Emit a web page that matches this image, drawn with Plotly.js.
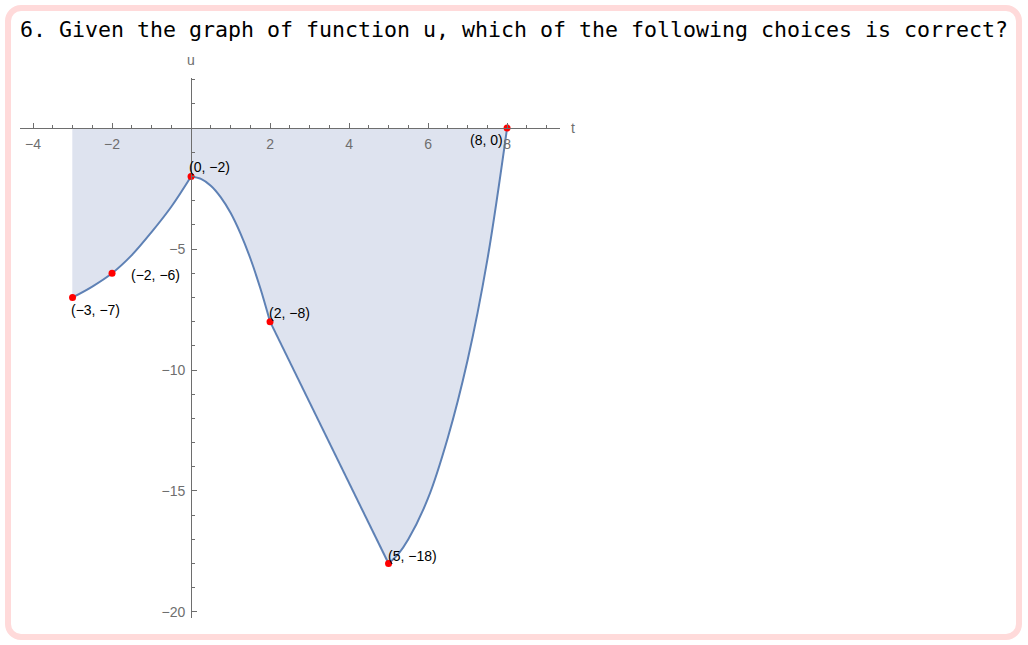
<!DOCTYPE html>
<html>
<head>
<meta charset="utf-8">
<script src="https://cdn.plot.ly/plotly-3.0.1.min.js"></script>
<style>
  html, body { margin: 0; padding: 0; background: #ffffff; }
  #wrap { position: relative; width: 1028px; height: 645px; }
  #chart { position: absolute; left: 0; top: 0; width: 1028px; height: 645px; }
  #frame { position: absolute; left: 5px; top: 5px; width: 1005px; height: 623px;
           border: 6px solid #ffdada; border-radius: 16px; pointer-events: none; }
</style>
</head>
<body>
<div id="wrap">
  <div id="chart"></div>
  <div id="frame"></div>
</div>
<script>
// ---- data ----
const titleText = "6. Given the graph of function u, which of the following choices is correct?";
const xAxisLabel = "t";
const yAxisLabel = "u";

// curve pieces (t, u)
const tSeg1 = [-3, -2.5, -2, -1.5, -1, -0.5, 0];
const uSeg1 = [-7, -6.55, -6, -5.25, -4.3, -3.25, -2];
const tSeg2 = [0, 0.25, 0.5, 0.75, 1, 1.25, 1.5, 1.75, 2];
const uSeg2 = [-2, -2.1, -2.38, -2.85, -3.5, -4.35, -5.38, -6.6, -8];
const tSeg3 = [2, 5];
const uSeg3 = [-8, -18];
const tSeg4 = [5, 5.25, 5.5, 6, 6.5, 7, 7.5, 8];
const uSeg4 = [-18, -17.6, -17.0, -15.3, -12.8, -9.6, -5.45, 0];

// labelled key points
const pointT = [-3, -2, 0, 2, 5, 8];
const pointU = [-7, -6, -2, -8, -18, 0];

// axis ticks
const xTickVals = [-4, -2, 2, 4, 6, 8];
const yTickVals = [-20, -15, -10, -5];

// ---- styling / layout ----
const xRange = [-4.33, 9.34];
const yRange = [-20.25, 2.07];
const lineColor = "#5e81b5";
const fillColor = "#dee3ef";
const axisColor = "#6e6e6e";
const labelFont = "Liberation Sans, Arial, sans-serif";

function fmt(v) { return (v < 0 ? "\u2212" + Math.abs(v) : String(v)); }

const segs = [[tSeg1, uSeg1, "spline"], [tSeg2, uSeg2, "spline"], [tSeg3, uSeg3, "linear"], [tSeg4, uSeg4, "spline"]];
const traces = [];
// base fill under everything (hides seams between the piece fills)
traces.push({
  x: [].concat(tSeg1, tSeg2, tSeg3, tSeg4), y: [].concat(uSeg1, uSeg2, uSeg3, uSeg4),
  type: "scatter", mode: "none", fill: "tozeroy", fillcolor: fillColor,
  hoverinfo: "skip", showlegend: false
});
segs.forEach(s => {
  traces.push({
    x: s[0], y: s[1], type: "scatter", mode: "lines",
    line: { color: lineColor, width: 2, shape: s[2], smoothing: 1 },
    fill: "tozeroy", fillcolor: fillColor, hoverinfo: "skip", showlegend: false
  });
});
traces.push({
  x: pointT, y: pointU, type: "scatter", mode: "markers",
  marker: { color: "#ff0000", size: 7 }, showlegend: false
});

// label placement per point: [xanchor, xshift, yshift]
const labelPos = [
  ["left", -4, -13],
  ["left", 17, -2],
  ["left", -4, 9],
  ["left", -3, 9],
  ["left", -3, 8],
  ["right", -2, -12]
];
const annotations = pointT.map((t, i) => ({
  x: t, y: pointU[i], xref: "x", yref: "y",
  text: "(" + fmt(t) + ", " + fmt(pointU[i]) + ")",
  showarrow: false, xanchor: labelPos[i][0], yanchor: "middle",
  xshift: labelPos[i][1], yshift: labelPos[i][2],
  font: { family: labelFont, size: 14, color: "#000000" }
}));
annotations.push({
  x: 1, y: 0, xref: "paper", yref: "y", text: xAxisLabel, showarrow: false,
  xanchor: "left", yanchor: "middle", xshift: 9,
  font: { family: labelFont, size: 14, color: axisColor }
});
annotations.push({
  x: 0, y: 1, xref: "x", yref: "paper", text: yAxisLabel, showarrow: false,
  xanchor: "center", yanchor: "bottom", yshift: 8,
  font: { family: labelFont, size: 14, color: axisColor }
});

const xZeroFrac = (0 - xRange[0]) / (xRange[1] - xRange[0]);
const yZeroFrac = (0 - yRange[0]) / (yRange[1] - yRange[0]);

const layout = {
  width: 1028, height: 645,
  margin: { l: 20, r: 468, t: 78, b: 27, pad: 0 },
  paper_bgcolor: "rgba(0,0,0,0)", plot_bgcolor: "rgba(0,0,0,0)",
  title: {
    text: titleText, x: 20 / 1028, xref: "container", xanchor: "left",
    y: 1 - 29.5 / 645, yref: "container", yanchor: "middle",
    font: { family: "DejaVu Sans Mono, monospace", size: 21.6, color: "#000000" }
  },
  xaxis: {
    range: xRange, showgrid: false, zeroline: false,
    anchor: "free", position: yZeroFrac,
    showline: true, linecolor: axisColor, linewidth: 1,
    ticks: "inside", ticklen: 5, tickcolor: axisColor, tickwidth: 1,
    tickvals: xTickVals, ticktext: xTickVals.map(fmt),
    tickfont: { family: labelFont, size: 14, color: axisColor },
    ticklabelstandoff: 3,
    minor: { dtick: 0.5, tick0: 0, ticks: "inside", ticklen: 3, tickcolor: axisColor, showgrid: false },
    layer: "above traces", fixedrange: true
  },
  yaxis: {
    range: yRange, showgrid: false, zeroline: false,
    anchor: "free", position: xZeroFrac,
    showline: true, linecolor: axisColor, linewidth: 1,
    ticks: "inside", ticklen: 5, tickcolor: axisColor, tickwidth: 1,
    tickvals: yTickVals, ticktext: yTickVals.map(fmt),
    tickfont: { family: labelFont, size: 14, color: axisColor },
    ticklabelstandoff: 3,
    minor: { dtick: 1, tick0: 0, ticks: "inside", ticklen: 3, tickcolor: axisColor, showgrid: false },
    layer: "above traces", fixedrange: true
  },
  annotations: annotations,
  showlegend: false
};

Plotly.newPlot("chart", traces, layout, { displayModeBar: false, staticPlot: true });
</script>
</body>
</html>
